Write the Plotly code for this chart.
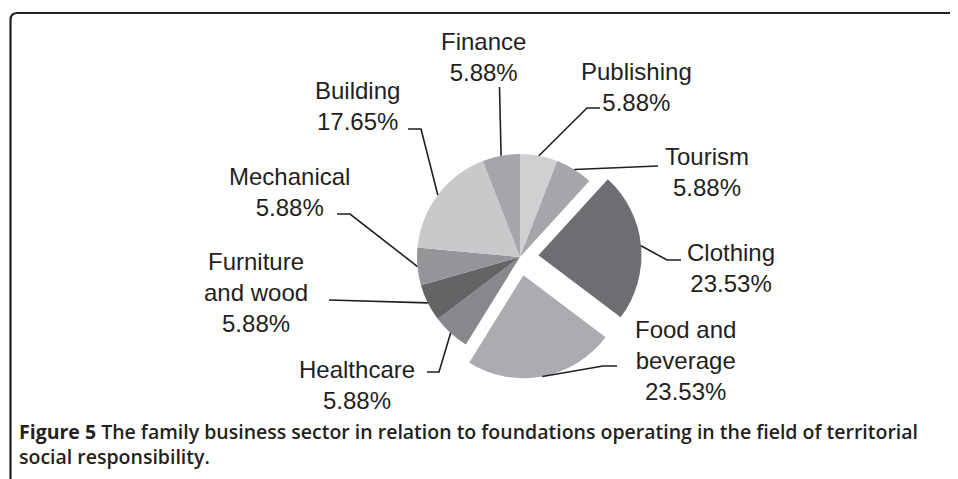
import math
import plotly.graph_objects as go

# page body has an 8px margin; keep the figure inside the 958x479 window
OFF = 8
W, H = 958 - OFF, 479 - OFF

# ---- data ----
sectors = ["Publishing", "Tourism", "Clothing", "Food and beverage", "Healthcare",
           "Furniture and wood", "Mechanical", "Building", "Finance"]
shares = [5.88, 5.88, 23.53, 23.53, 5.88, 5.88, 5.88, 17.65, 5.88]
label_text = ["Publishing<br>5.88%", "Tourism<br>5.88%", "Clothing<br>23.53%",
              "Food and<br>beverage<br>23.53%", "Healthcare<br>5.88%",
              "Furniture<br>and wood<br>5.88%", "Mechanical<br>5.88%",
              "Building<br>17.65%", "Finance<br>5.88%"]
pulls = [0, 0, 0.18, 0.18, 0, 0, 0, 0, 0]
colors = ["#cfd0d2", "#a5a6a9", "#6d6e72", "#abacaf", "#88898c",
          "#636466", "#939598", "#c8c9cb", "#a5a6a9"]

# ---- layout of the pie (screen pixels) ----
CX, CY = 520, 257
BOX = 243
px2x = lambda px: (px - OFF) / W
py2y = lambda py: 1 - (py - OFF) / H

label_pos = [(636, 87), (707, 172), (731, 268), (685, 360), (357, 385),
             (256, 292), (289, 192), (357, 106), (483, 57)]
leader_pts = [[(587, 108), (600, 108)],
              [(658, 166)],
              [(667, 260), (681, 260)],
              [(603, 366), (617, 366)],
              [(439, 372), (427, 372)],
              [(329, 300)],
              [(350, 214), (337, 214)],
              [(421, 129), (408, 129)],
              [(499.5, 87)]]

fig = go.Figure()
fig.add_trace(go.Pie(
    labels=sectors, values=shares, sort=False, direction="clockwise", rotation=0,
    pull=pulls, marker=dict(colors=colors, line=dict(width=0)),
    textinfo="none", hoverinfo="label+percent", showlegend=False,
    domain=dict(x=[px2x(CX - BOX / 2), px2x(CX + BOX / 2)],
                y=[py2y(CY + BOX / 2), py2y(CY - BOX / 2)]),
))

maxpull = max(pulls)
R = BOX / (2 + 2 * maxpull)

total = sum(shares)
shapes = []
annotations = []
cum = 0
for i, v in enumerate(shares):
    mid = (cum + v / 2) / total * 2 * math.pi
    cum += v
    sx, sy = math.sin(mid), -math.cos(mid)
    ox, oy = CX + pulls[i] * R * sx, CY + pulls[i] * R * sy
    start = (ox + R * sx, oy + R * sy)
    pts = [start] + leader_pts[i]
    path = "M " + " L ".join(f"{px2x(x):.5f},{py2y(y):.5f}" for x, y in pts)
    shapes.append(dict(type="path", path=path, xref="paper", yref="paper",
                       line=dict(color="#231f20", width=1.6)))
    lx, ly = label_pos[i]
    annotations.append(dict(text=label_text[i], x=px2x(lx), y=py2y(ly), xref="paper", yref="paper",
                            showarrow=False, xanchor="center", yanchor="middle", align="center",
                            font=dict(family="Liberation Sans, Arial, sans-serif", size=24, color="#231f20")))

# frame
shapes.append(dict(type="path",
                   path=f"M {px2x(10.5)},{py2y(482)} L {px2x(10.5)},{py2y(20)} "
                        f"Q {px2x(10.5)},{py2y(13)} {px2x(17.5)},{py2y(13)} L {px2x(962)},{py2y(13)}",
                   xref="paper", yref="paper", line=dict(color="#231f20", width=2.2)))

caption = ("<b>Figure 5</b> The family business sector in relation to foundations operating in the field of territorial"
           "<br>social responsibility.")
annotations.append(dict(text=caption, x=px2x(17), y=py2y(443.5), xref="paper", yref="paper",
                        showarrow=False, xanchor="left", yanchor="middle", align="left",
                        font=dict(family="Open Sans, sans-serif", size=19.5, color="#231f20", weight=600)))

fig.update_layout(width=W, height=H, margin=dict(l=0, r=0, t=0, b=0),
                  paper_bgcolor="white", plot_bgcolor="white",
                  shapes=shapes, annotations=annotations)
fig.write_html("out.html")
